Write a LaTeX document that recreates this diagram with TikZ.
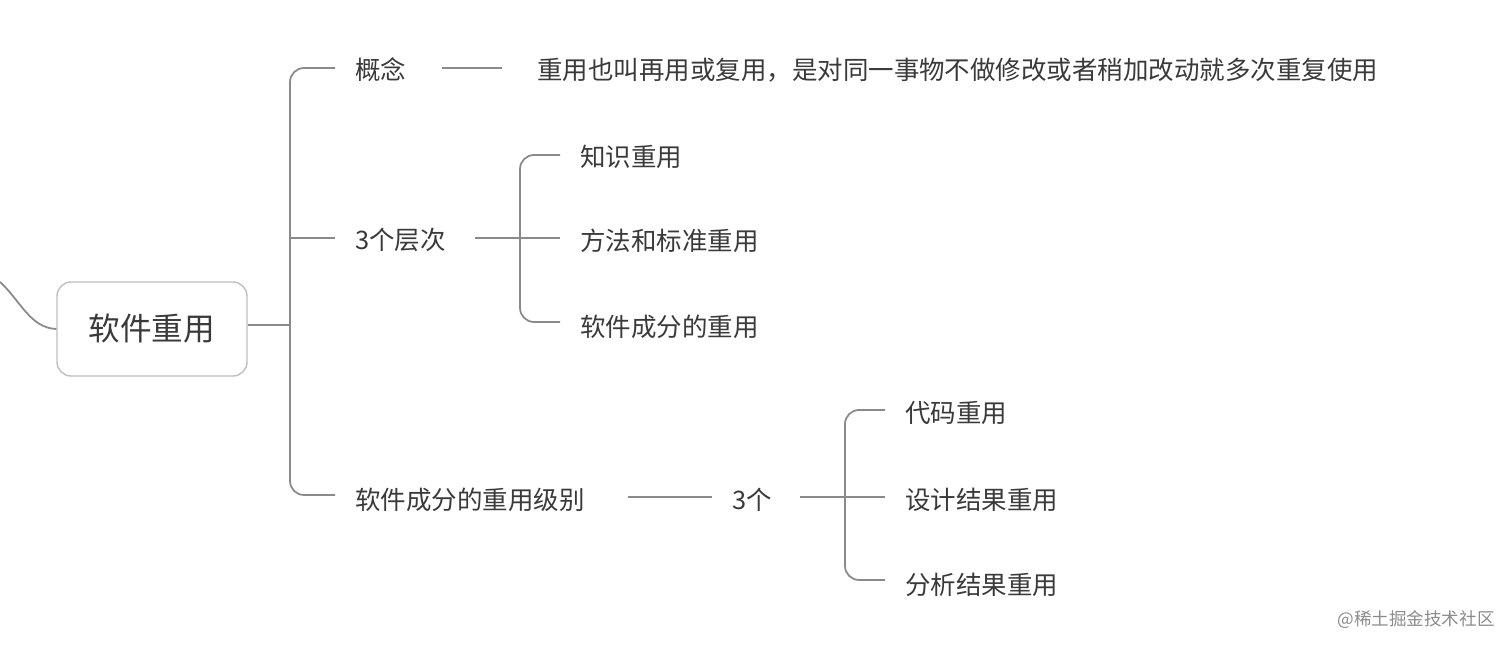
\documentclass[tikz,border=0pt]{standalone}
\usepackage{fontspec}
\setmainfont{Noto Sans CJK SC}
\definecolor{txt}{HTML}{3A3A3A}
\definecolor{ln}{HTML}{8A8A8A}
\begin{document}
\begin{tikzpicture}[x=0.02cm,y=-0.02cm,
  lbl/.style={anchor=west,inner sep=0pt,text=txt,font=\fontsize{14.5}{16}\selectfont},
  conn/.style={draw=ln,line width=1pt},
  rc/.style={conn,rounded corners=8pt}]
\useasboundingbox[fill=white] (0,0) rectangle (1512,651);
\node[draw=black!25,line width=0.8pt,rounded corners=8pt,minimum width=190*0.02cm,minimum height=94*0.02cm,text=txt,font=\fontsize{18}{20}\selectfont] (root) at (152,329) {软件重用};
\coordinate (lc) at (0,282);
\draw[conn] (lc) .. controls (20,300) and (30,328) .. (root.west);
% trunk
\coordinate (tj) at (290,325);
\draw[conn] (root.east |- tj) -- (tj);
\node[lbl] (gn) at (355,70) {概念};
\node[lbl] (cc) at (355,240) {3个层次};
\node[lbl] (jb) at (355,500) {软件成分的重用级别};
\draw[rc] (335,68) -| (290,495) -- (335,495);
\draw[conn] (290,238) -- (335,238);
% concept
\node[lbl] (def) at (537,70) {重用也叫再用或复用，是对同一事物不做修改或者稍加改动就多次重复使用};
\draw[conn] ([xshift=20pt]gn.east |- 0,68) -- ([xshift=-20pt]def.west |- 0,68);
% levels
\node[lbl] (k1) at (580,157) {知识重用};
\node[lbl] (k2) at (580,241) {方法和标准重用};
\node[lbl] (k3) at (580,327) {软件成分的重用};
\draw[conn] (475,238) -- (520,238);
\draw[rc] (560,155) -| (520,322) -- (560,322);
\draw[conn] (520,238) -- (560,238);
% grades
\node[lbl] (three) at (732,500) {3个};
\draw[conn] (628,497) -- (712,497);
\node[lbl] (g1) at (905,413) {代码重用};
\node[lbl] (g2) at (905,500) {设计结果重用};
\node[lbl] (g3) at (905,585) {分析结果重用};
\draw[conn] (800,497) -- (845,497);
\draw[rc] (885,410) -| (845,580) -- (885,580);
\draw[conn] (845,497) -- (885,497);
\node[anchor=east,inner sep=0pt,text=black!45,font=\fontsize{10}{12}\selectfont] (wm) at (1495,620) {@稀土掘金技术社区};
\end{tikzpicture}
\end{document}
